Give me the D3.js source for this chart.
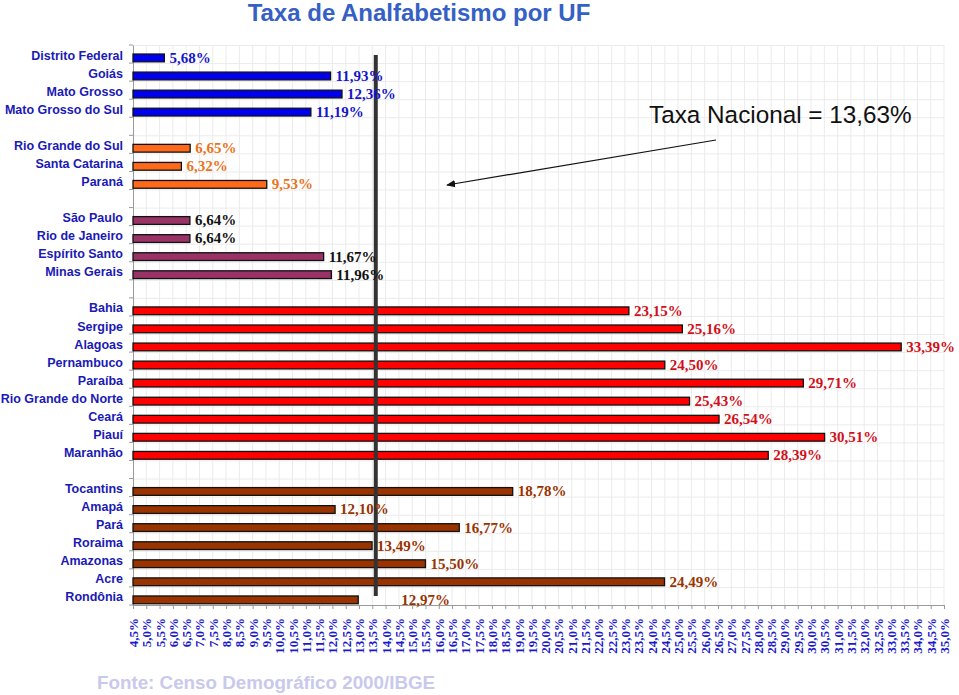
<!DOCTYPE html>
<html>
<head>
<meta charset="utf-8">
<script src="https://cdn.jsdelivr.net/npm/d3@7"></script>
<style>
  html, body { margin: 0; padding: 0; background: #ffffff; }
  svg { display: block; }
</style>
</head>
<body>
<div id="chart"></div>
<script>
// ---------- DATA ----------
const categories = [
  "Distrito Federal", "Goiás", "Mato Grosso", "Mato Grosso do Sul", "",
  "Rio Grande do Sul", "Santa Catarina", "Paraná", " ",
  "São Paulo", "Rio de Janeiro", "Espírito Santo", "Minas Gerais", "  ",
  "Bahia", "Sergipe", "Alagoas", "Pernambuco", "Paraíba", "Rio Grande do Norte", "Ceará", "Piauí", "Maranhão", "   ",
  "Tocantins", "Amapá", "Pará", "Roraima", "Amazonas", "Acre", "Rondônia"
];
const values = [
  5.68, 11.93, 12.36, 11.19, null,
  6.65, 6.32, 9.53, null,
  6.64, 6.64, 11.67, 11.96, null,
  23.15, 25.16, 33.39, 24.50, 29.71, 25.43, 26.54, 30.51, 28.39, null,
  18.78, 12.10, 16.77, 13.49, 15.50, 24.49, 12.97
];
const regions = [
  "CO", "CO", "CO", "CO", null,
  "S", "S", "S", null,
  "SE", "SE", "SE", "SE", null,
  "NE", "NE", "NE", "NE", "NE", "NE", "NE", "NE", "NE", null,
  "N", "N", "N", "N", "N", "N", "N"
];
const tickValues = d3.range(4.5, 35.0001, 0.5).map(v => +v.toFixed(1));
const nationalRate = 13.63;
const titleText = "Taxa de Analfabetismo por UF";
const nationalText = "Taxa Nacional = 13,63%";
const sourceText = "Fonte: Censo Demográfico 2000/IBGE";

// ---------- STYLE ----------
const barColor = { CO: "#0000f0", S: "#ff6a1a", SE: "#993366", NE: "#ff0000", N: "#993300" };
const labelColor = { CO: "#1616c8", S: "#e8731e", SE: "#111111", NE: "#d0101a", N: "#993300" };

const W = 959, H = 695;
const svg = d3.select("#chart").append("svg").attr("width", W).attr("height", H);

const x = d3.scaleLinear().domain([4.5, 35]).range([133, 944]);
const y = d3.scaleBand().domain(d3.range(categories.length)).range([45, 605]).paddingInner(0).paddingOuter(0);
const bw = y.bandwidth();

const fmt = v => v.toFixed(2).replace(".", ",") + "%";
const fmtTick = v => v.toFixed(1).replace(".", ",") + "%";

// grid
const grid = svg.append("g");
grid.selectAll("line.v").data(tickValues.slice(1)).enter().append("line")
  .attr("x1", d => x(d)).attr("x2", d => x(d))
  .attr("y1", 45).attr("y2", 605)
  .attr("stroke", "#ebebeb").attr("stroke-width", 1);
grid.selectAll("line.h").data(d3.range(categories.length)).enter().append("line")
  .attr("x1", 133).attr("x2", 944)
  .attr("y1", d => y(d) + 0.5).attr("y2", d => y(d) + 0.5)
  .attr("stroke", "#ebebeb").attr("stroke-width", 1);

// x axis
const xAxis = d3.axisBottom(x).tickValues(tickValues).tickSize(4).tickFormat(fmtTick);
const gx = svg.append("g").attr("transform", "translate(0,605)").call(xAxis);
gx.select(".domain").attr("stroke", "#9a9a9a");
gx.selectAll(".tick line").attr("stroke", "#9a9a9a");
gx.selectAll(".tick text")
  .attr("font-family", "'Liberation Serif', 'Times New Roman', serif")
  .attr("font-weight", "bold").attr("font-size", "13px").attr("fill", "#1a1acc")
  .attr("text-anchor", "end")
  .attr("transform", "translate(4.5,13) rotate(-90)")
  .attr("x", 0).attr("y", 0).attr("dy", 0);

// y axis
const yAxis = d3.axisLeft(y).tickSize(0).tickFormat(i => categories[i].trim());
const gy = svg.append("g").attr("transform", "translate(133,0)").call(yAxis);
gy.select(".domain").attr("stroke", "#9a9a9a");
gy.selectAll(".tick text")
  .attr("font-family", "Arial, 'Liberation Sans', sans-serif")
  .attr("font-weight", "bold").attr("font-size", "12.5px").attr("fill", "#1a1ab4")
  .attr("x", -10).attr("dy", "0.36em").attr("y", 1);
// boundary ticks on y axis
svg.append("g").selectAll("line").data(d3.range(categories.length + 1)).enter().append("line")
  .attr("x1", 129).attr("x2", 133)
  .attr("y1", d => 45 + d * bw).attr("y2", d => 45 + d * bw)
  .attr("stroke", "#9a9a9a");

// bars
const rows = categories.map((c, i) => ({ i, c, v: values[i], r: regions[i] })).filter(d => d.v != null);
svg.append("g").selectAll("rect").data(rows).enter().append("rect")
  .attr("x", x(4.5))
  .attr("y", d => y(d.i) + bw * 0.5)
  .attr("width", d => x(d.v) - x(4.5))
  .attr("height", bw * 0.43)
  .attr("fill", d => barColor[d.r])
  .attr("stroke", "#111").attr("stroke-width", 1.3);

// national line
svg.append("line")
  .attr("x1", x(nationalRate)).attr("x2", x(nationalRate))
  .attr("y1", 55).attr("y2", 596)
  .attr("stroke", "#333333").attr("stroke-width", 4);

// value labels (Rondônia's label was moved right in the original)
const labelShift = { "Rondônia": 38 };
svg.append("g").selectAll("text").data(rows).enter().append("text")
  .attr("x", d => x(d.v) + 5 + (labelShift[d.c] || 0))
  .attr("y", d => y(d.i) + bw * 0.71 + 5)
  .attr("font-family", "'Liberation Serif', 'Times New Roman', serif")
  .attr("font-weight", "bold").attr("font-size", "15px")
  .attr("fill", d => labelColor[d.r])
  .text(d => fmt(d.v));

// title
svg.append("text").attr("x", 419).attr("y", 21).attr("text-anchor", "middle")
  .attr("font-family", "Arial, 'Liberation Sans', sans-serif").attr("font-weight", "bold")
  .attr("font-size", "24px").attr("fill", "#3560c4").text(titleText);

// national annotation
svg.append("text").attr("x", 649).attr("y", 123)
  .attr("font-family", "Arial, 'Liberation Sans', sans-serif")
  .attr("font-size", "24.3px").attr("fill", "#111").text(nationalText);

svg.append("defs").append("marker").attr("id", "arr")
  .attr("viewBox", "0 0 10 10").attr("refX", 9).attr("refY", 5)
  .attr("markerWidth", 9).attr("markerHeight", 9).attr("orient", "auto")
  .attr("markerUnits", "userSpaceOnUse")
  .append("path").attr("d", "M0,1 L10,5 L0,9 Z").attr("fill", "#111");
svg.append("line").attr("x1", 716).attr("y1", 140).attr("x2", 447).attr("y2", 185)
  .attr("stroke", "#111").attr("stroke-width", 1.2).attr("marker-end", "url(#arr)");

// source
svg.append("text").attr("x", 97).attr("y", 689)
  .attr("font-family", "Arial, 'Liberation Sans', sans-serif").attr("font-weight", "bold")
  .attr("font-size", "18.8px").attr("fill", "#c9c9ec").text(sourceText);
</script>
</body>
</html>
